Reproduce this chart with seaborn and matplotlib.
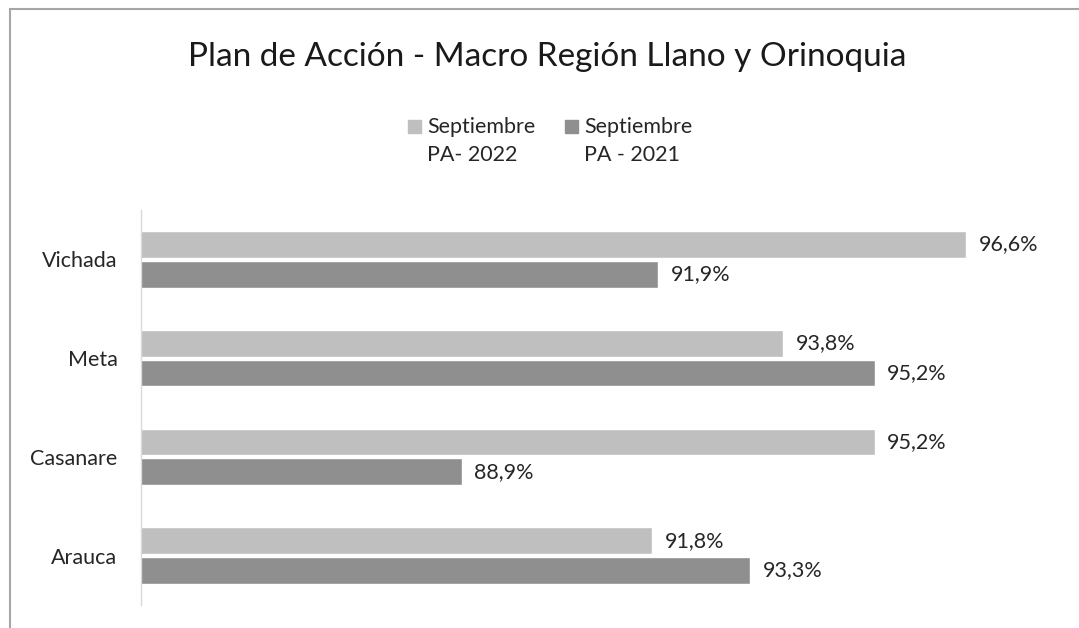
import seaborn as sns
import pandas as pd
import matplotlib.pyplot as plt
from matplotlib.patches import Rectangle

regions = ['Vichada', 'Meta', 'Casanare', 'Arauca']
series_names = ['Septiembre\nPA- 2022', 'Septiembre\nPA - 2021']
pa_2022 = [96.6, 93.8, 95.2, 91.8]
pa_2021 = [91.9, 95.2, 88.9, 93.3]
colors = ['#BFBFBF', '#8F8F8F']

df = pd.DataFrame({
    'region': regions * 2,
    'serie': [series_names[0]] * 4 + [series_names[1]] * 4,
    'valor': pa_2022 + pa_2021,
})

sns.set_style('white')
plt.rcParams['font.family'] = ['Lato', 'DejaVu Sans']

W, H = 1079, 628
fig = plt.figure(figsize=(W / 100, H / 100), dpi=100)
ax = fig.add_axes([141 / W, 1 - 605 / H, (1058 - 141) / W, (605 - 210) / H])

sns.barplot(data=df, y='region', x='valor', hue='serie', orient='h',
            palette=colors, width=0.6, gap=0.1, ax=ax, saturation=1,
            legend=False)

for cont in ax.containers:
    labels = [f'{v:.1f}%'.replace('.', ',') for v in cont.datavalues]
    ax.bar_label(cont, labels=labels, padding=9, fontsize=15.5, color='#262626')

ax.set_xlim(84, 98)
ax.set_ylim(3.5, -0.5)
ax.set_xlabel('')
ax.set_ylabel('')
ax.set_xticks([])
ax.tick_params(axis='y', length=0, pad=17, labelsize=15.5, labelcolor='#262626')
for s in ['top', 'right', 'bottom']:
    ax.spines[s].set_visible(False)
ax.spines['left'].set_color('#D9D9D9')
ax.spines['left'].set_linewidth(1)

fig.text(547 / W, 1 - 57 / H, 'Plan de Acción - Macro Región Llano y Orinoquia',
         ha='center', va='center', fontsize=24, color='#1a1a1a')

# legend (square next to first line of each two-line label)
leg_x = [408, 565]
for x0, c, name in zip(leg_x, colors, series_names):
    fig.patches.append(Rectangle((x0 / W, 1 - 133 / H), 13 / W, 13 / H,
                                 transform=fig.transFigure, color=c))
    l1, l2 = name.split('\n')
    fig.text((x0 + 19) / W, 1 - 127 / H, l1, ha='left', va='center',
             fontsize=15.5, color='#262626')
    fig.text((x0 + 19) / W, 1 - 155 / H, l2, ha='left', va='center',
             fontsize=15.5, color='#262626')

# outer chart frame
fig.patches.append(Rectangle((10 / W, -0.1), 1.2, 1 - 9 / H + 0.1,
                             transform=fig.transFigure, fill=False,
                             edgecolor='#A6A6A6', linewidth=1.5))

fig.savefig('out.png', dpi=100)
